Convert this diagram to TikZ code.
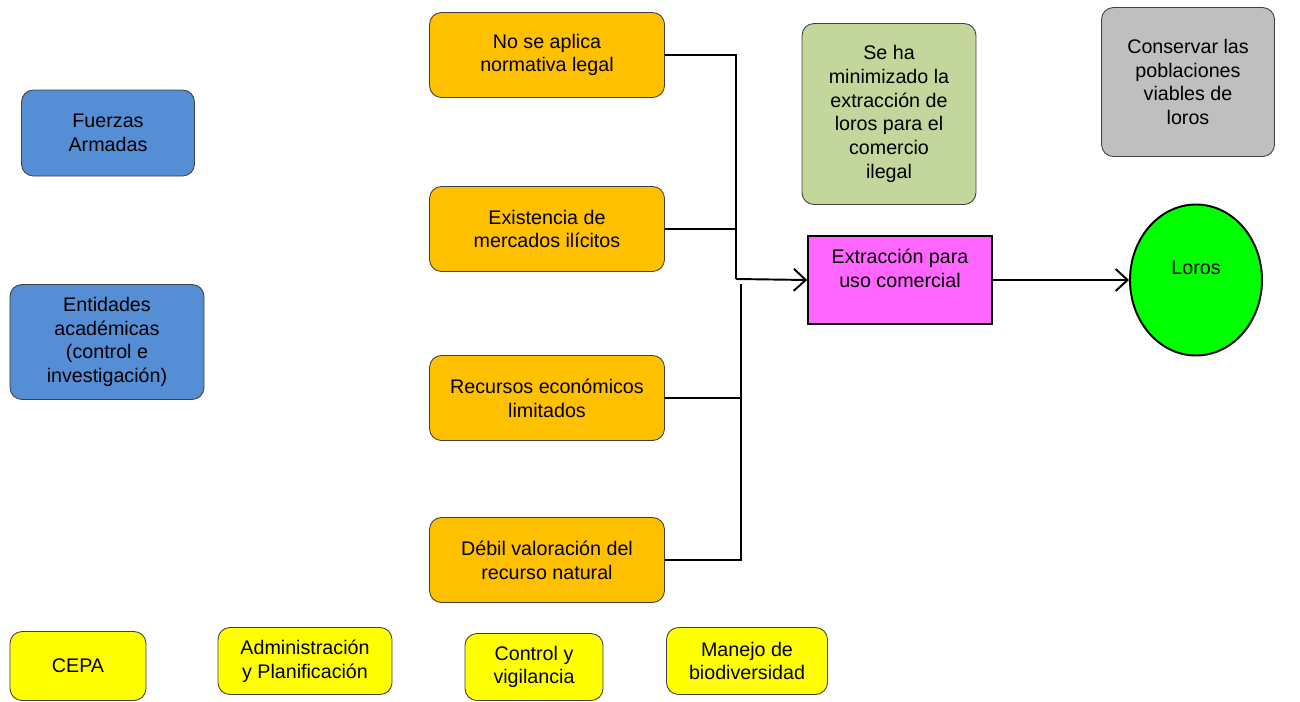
\documentclass[tikz,border=0pt]{standalone}
\usepackage{fontspec}
\setmainfont{Liberation Sans}
\usetikzlibrary{arrows.meta,shapes.geometric}
\definecolor{actorblue}{RGB}{85,142,213}
\definecolor{causeorange}{RGB}{255,192,0}
\definecolor{goalgreen}{RGB}{195,214,155}
\definecolor{goalgrey}{RGB}{191,191,191}
\definecolor{threatpink}{RGB}{255,102,255}
\definecolor{targetgreen}{RGB}{0,255,0}
\definecolor{strategyyellow}{RGB}{255,255,0}
\tikzset{
  card/.style={draw=black!75,line width=0.5pt,rounded corners=2.4mm,align=center,
    inner sep=0pt,font=\fontsize{11.2}{13.5}\selectfont},
  cause/.style={card,fill=causeorange,minimum width=47mm,minimum height=17mm},
  actor/.style={card,fill=actorblue},
  strategy/.style={card,fill=strategyyellow},
  link/.style={line width=1.1pt,black}
}
\begin{document}
\begin{tikzpicture}[x=0.2mm,y=-0.2mm]
\useasboundingbox (0,0) rectangle (1300,702);
% actores
\node[actor,minimum width=34.6mm,minimum height=17.2mm] (fuerzas) at (108,133) {Fuerzas\\Armadas};
\node[actor,minimum width=38.8mm,minimum height=23mm] (academia) at (107,342) {Entidades\\académicas\\(control e\\investigación)};
% factores
\node[cause] (normativa) at (547,55) {No se aplica\\normativa legal};
\node[cause] (mercados) at (547,229) {Existencia de\\mercados ilícitos};
\node[cause] (recursos) at (547,398) {Recursos económicos\\limitados};
\node[cause] (valoracion) at (547,560) {Débil valoración del\\recurso natural};
% metas
\node[card,fill=goalgreen,minimum width=34.8mm,minimum height=36.2mm] (meta) at (889,114) {Se ha\\minimizado la\\extracción de\\loros para el\\comercio\\ilegal};
\node[card,fill=goalgrey,minimum width=34.6mm,minimum height=29.8mm] (vision) at (1188,82) {Conservar las\\poblaciones\\viables de\\loros};
% amenaza y objeto
\node[draw=black,line width=0.9pt,fill=threatpink,minimum width=36.8mm,minimum height=17.6mm,
  align=center,inner sep=0pt,font=\fontsize{11.2}{13.5}\selectfont] (extraccion) at (900,280) {Extracción para\\uso comercial\\\mbox{}};
\node[ellipse,draw=black,line width=1.1pt,fill=targetgreen,minimum width=26.4mm,minimum height=30.2mm,
  align=center,inner sep=0pt,font=\fontsize{11.2}{13.5}\selectfont] (loros) at (1196,280) {Loros\\\mbox{}};
% estrategias
\node[strategy,minimum width=27.2mm,minimum height=13.8mm] (cepa) at (78,666) {CEPA};
\node[strategy,minimum width=34.8mm,minimum height=13.4mm] (admin) at (305,661) {Administración\\y Planificación};
\node[strategy,minimum width=27.6mm,minimum height=13.4mm] (control) at (534,667) {Control y\\vigilancia};
\node[strategy,minimum width=32.2mm,minimum height=13.4mm] (manejo) at (747,661) {Manejo de\\biodiversidad};
% conectores
\coordinate (busA) at (736,279);
\coordinate (busB) at (741,284);
\draw[link] (normativa.east) -- (normativa.east -| busA) -- (busA);
\draw[link] (mercados.east) -- (mercados.east -| busA);
\draw[link,-{Straight Barb[length=2.4mm,width=4.4mm]}] (busA) -- (extraccion.west);
\draw[link] (busB) -- (busB |- valoracion.east) -- (valoracion.east);
\draw[link] (recursos.east) -- (recursos.east -| busB);
\draw[link,-{Straight Barb[length=2.4mm,width=4.4mm]}] (extraccion.east) -- (loros.west);
\end{tikzpicture}
\end{document}
